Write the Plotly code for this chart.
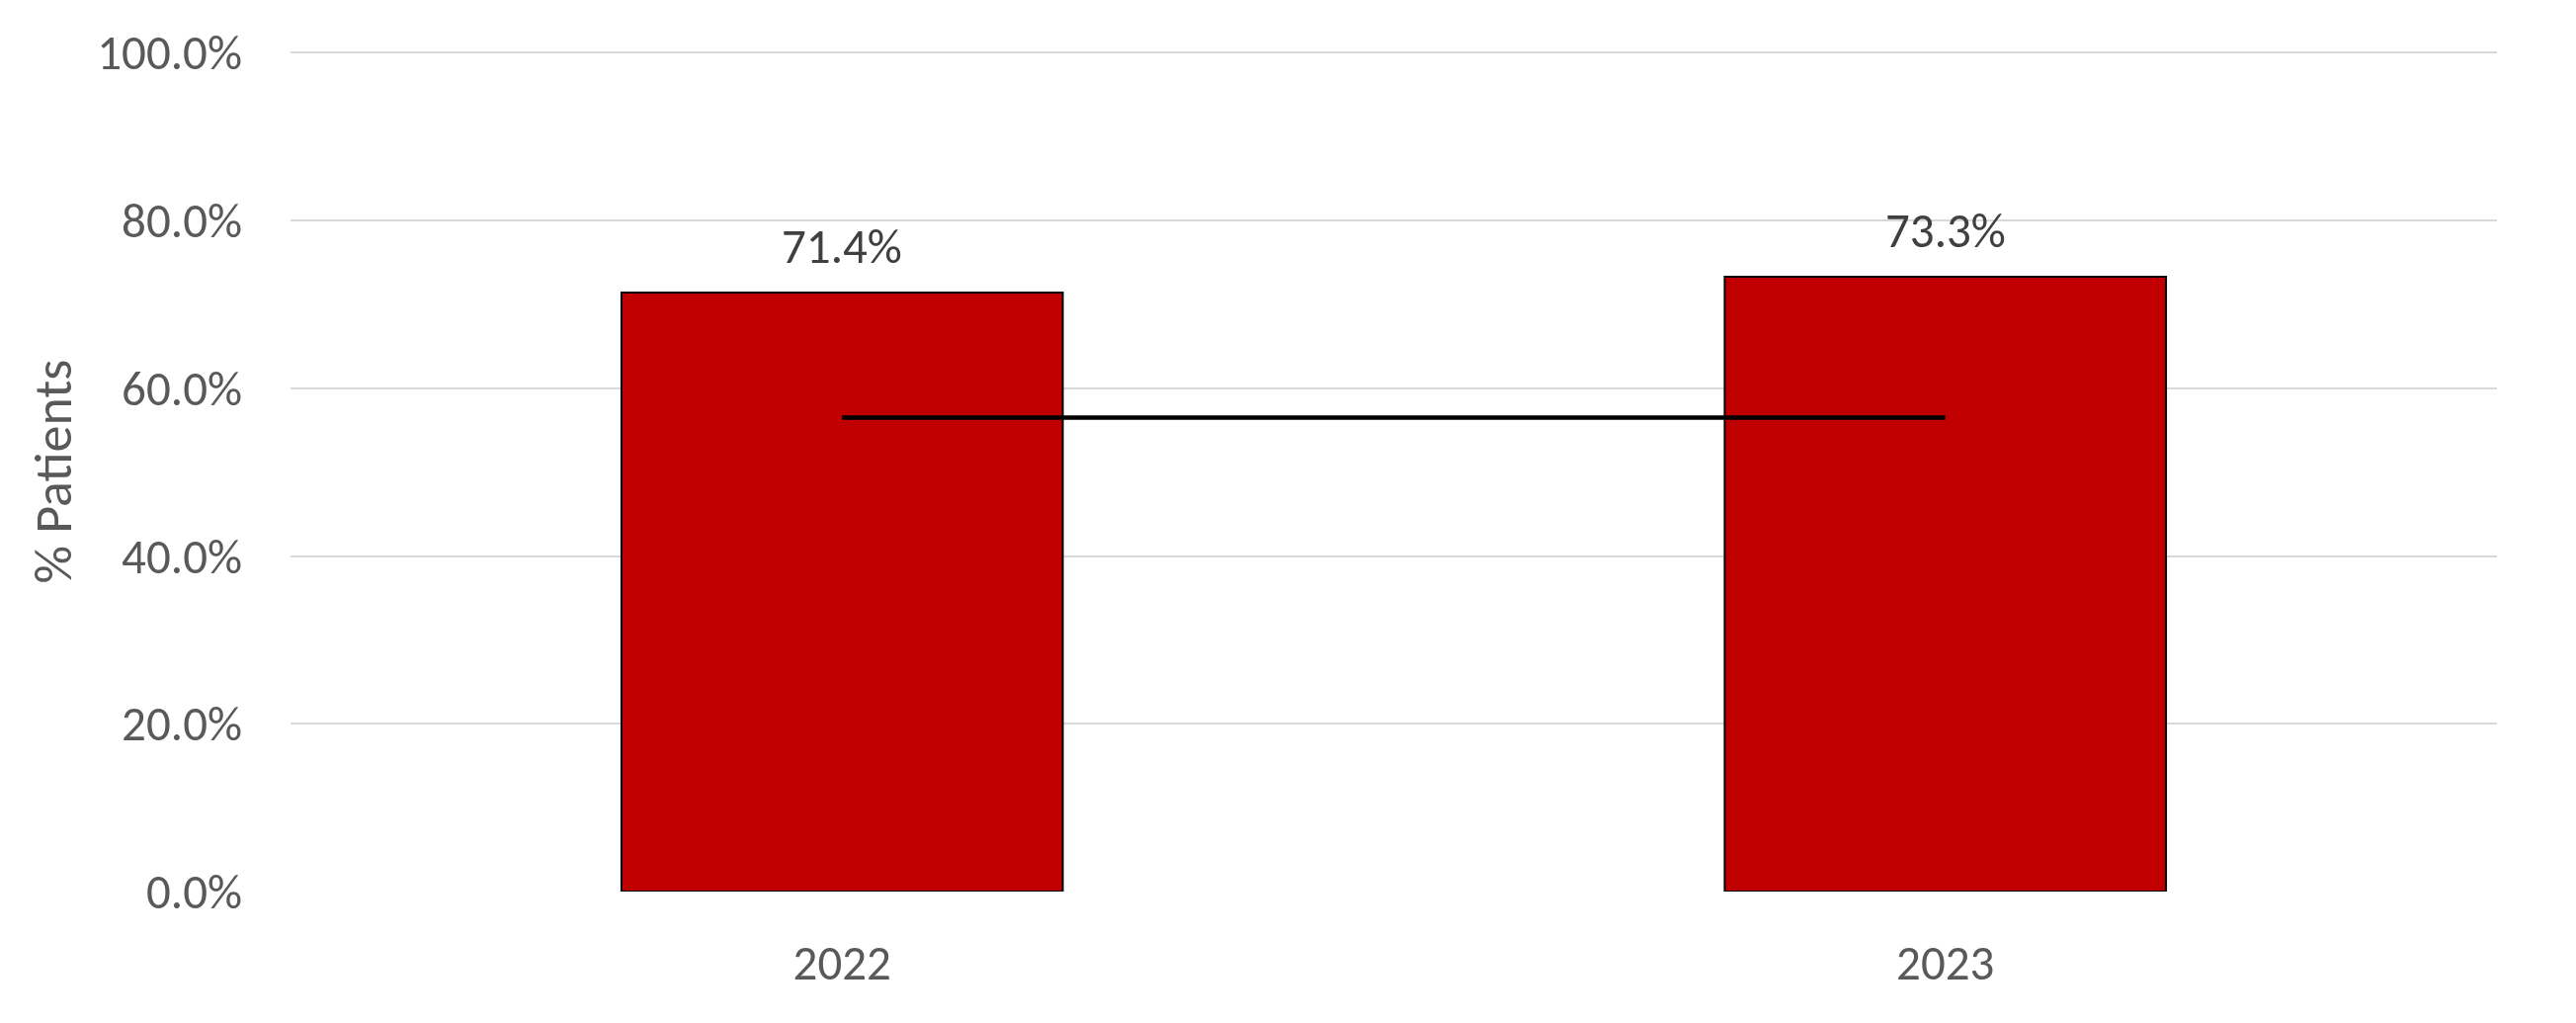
import plotly.graph_objects as go

categories = ["2022", "2023"]
values = [0.714, 0.733]
value_labels = ["71.4%", "73.3%"]
target = [0.565, 0.565]
y_ticks = [0, 0.2, 0.4, 0.6, 0.8, 1.0]
y_tick_labels = ["0.0%", "20.0%", "40.0%", "60.0%", "80.0%", "100.0%"]

FONT = "Calibri, Carlito, Lato, sans-serif"
FS = 49

fig = go.Figure()
fig.add_trace(go.Bar(
    x=categories, y=values,
    marker=dict(color="#C00000", line=dict(color="#000000", width=2)),
    showlegend=False, hoverinfo="skip",
))
fig.add_trace(go.Scatter(
    x=categories, y=target, mode="lines",
    line=dict(color="#000000", width=4.5),
    showlegend=False, hoverinfo="skip",
))
for i, (v, t) in enumerate(zip(values, value_labels)):
    fig.add_annotation(x=i, y=v, xref="x", yref="y", text=t, showarrow=False,
                       yanchor="bottom", yshift=15,
                       font=dict(family=FONT, size=FS, color="#404040"))

# page body has an 8px margin: figure is shifted to compensate
fig.update_layout(
    width=2591, height=1019,
    margin=dict(l=286, r=72, t=44, b=125, autoexpand=False),
    paper_bgcolor="white", plot_bgcolor="white",
    bargap=0.6,
    font=dict(family=FONT, size=FS, color="#595959"),
)
fig.update_xaxes(
    type="category", range=[-0.5, 1.5], showgrid=False, showline=False,
    ticks="", ticklabelstandoff=39,
    tickfont=dict(family=FONT, size=FS, color="#595959"),
)
fig.update_yaxes(
    range=[0, 1.0015], tickvals=y_ticks, ticktext=y_tick_labels,
    showgrid=True, gridcolor="#D9D9D9", gridwidth=2,
    zeroline=False, showline=False, ticks="", ticklabelstandoff=48,
    tickfont=dict(family=FONT, size=FS, color="#595959"),
    title=dict(text="% Patients", standoff=8,
               font=dict(family=FONT, size=54, color="#595959")),
)

fig.write_html("out.html")
